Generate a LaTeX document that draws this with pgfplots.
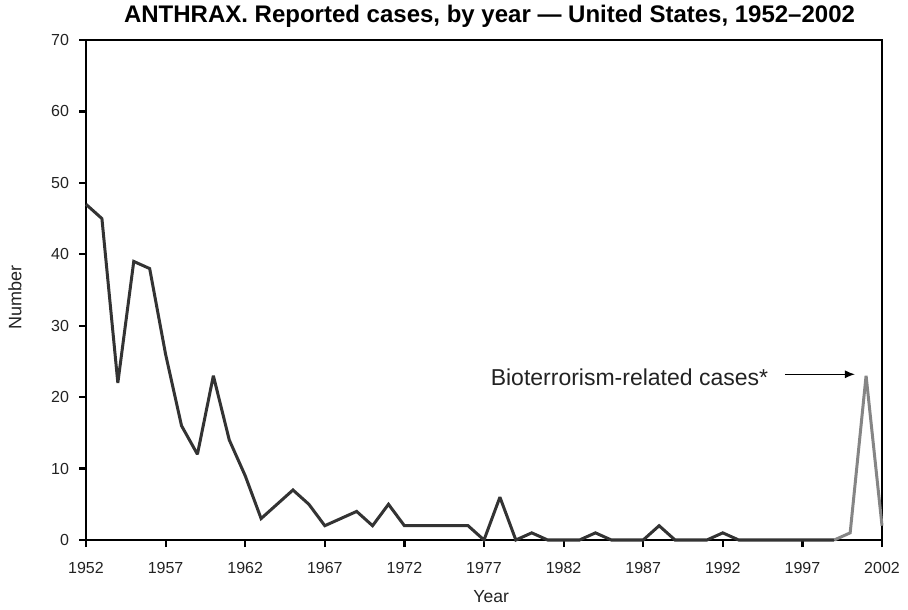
\documentclass[border=0pt]{standalone}
\usepackage{pgfplots}
\pgfplotsset{compat=1.18}
\usetikzlibrary{arrows.meta}
\usepackage{fontspec}
\setmainfont{Liberation Sans}
\definecolor{darkline}{HTML}{333333}
\definecolor{greyline}{HTML}{858585}
\definecolor{txt}{HTML}{222222}
\begin{document}
\begin{tikzpicture}
\path[use as bounding box] (0,0) rectangle (454pt,304.5pt);
\begin{axis}[
  at={(43pt,34.5pt)}, anchor=south west,
  scale only axis, width=398pt, height=250pt,
  xmin=1952, xmax=2002, ymin=0, ymax=70,
  xtick={1952,1957,...,2002}, ytick={0,10,...,70},
  /pgf/number format/assume math mode=true,
  /pgf/number format/1000 sep={},
  tick align=outside, major tick length=3.5pt,
  xtick pos=bottom, ytick pos=left,
  axis line style={line width=1.25pt, black},
  major tick style={line width=1.1pt, black},
  tick label style={font=\fontsize{8}{9}\selectfont, text=txt},
  xticklabel style={yshift=-4pt},
  yticklabel style={xshift=-1.5pt},
  xlabel={Year}, ylabel={Number},
  xlabel style={font=\fontsize{8.75}{10}\selectfont, text=txt, at={(axis description cs:0.509,-0.114)}, anchor=center},
  ylabel style={font=\fontsize{9}{10}\selectfont, text=txt, at={(axis description cs:-0.0892,0.486)}, anchor=center},
  clip=false,
]
\addplot[color=darkline, line width=1.5pt, line join=miter, miter limit=2.5] coordinates {
(1952,47) (1953,45) (1954,22) (1955,39) (1956,38) (1957,26) (1958,16) (1959,12)
(1960,23) (1961,14) (1962,9) (1963,3) (1964,5) (1965,7) (1966,5) (1967,2)
(1968,3) (1969,4) (1970,2) (1971,5) (1972,2) (1973,2) (1974,2) (1975,2)
(1976,2) (1977,0) (1978,6) (1979,0) (1980,1) (1981,0) (1982,0) (1983,0)
(1984,1) (1985,0) (1986,0) (1987,0) (1988,2) (1989,0) (1990,0) (1991,0)
(1992,1) (1993,0) (1994,0) (1995,0) (1996,0) (1997,0) (1998,0) (1999,0)
};
\addplot[color=greyline, line width=1.5pt, line join=miter, miter limit=2.5] coordinates {
(1999,0) (2000,1) (2001,23) (2002,2)
};
\node[anchor=base, font=\fontsize{12}{14}\selectfont\bfseries, inner sep=0pt, yshift=9pt] at (rel axis cs:0.507,1) {ANTHRAX. Reported cases, by year --- United States, 1952--2002};
\node[anchor=base west, font=\fontsize{11.5}{13}\selectfont, text=txt, inner sep=0pt] at (axis cs:1977.4,21.7) {Bioterrorism-related cases*};
\draw[-{Latex[length=5pt,width=4pt]}, line width=0.6pt, black] (axis cs:1995.9,23.2) -- (axis cs:2000.3,23.2);
\end{axis}
\end{tikzpicture}
\end{document}
